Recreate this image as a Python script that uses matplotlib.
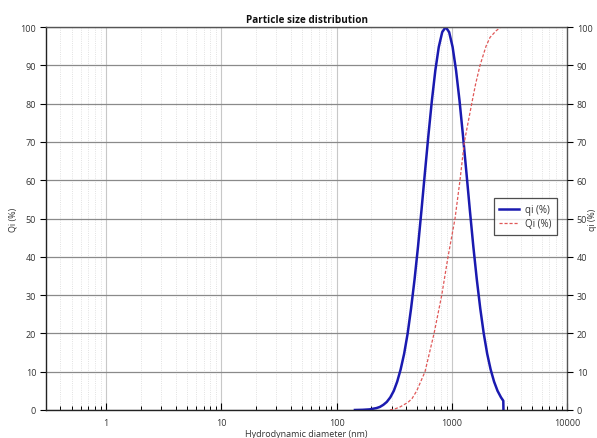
import matplotlib
matplotlib.use("Agg")
import matplotlib.pyplot as plt
from matplotlib.ticker import LogLocator, FixedLocator, NullFormatter, FixedFormatter

plt.rcParams['font.family'] = ['Open Sans', 'DejaVu Sans']

# qi (%) - frequency distribution
qi_d = [144, 168, 193, 221, 237, 254, 272, 292, 313, 335, 359, 385, 413, 442, 474,
        508, 544, 583, 625, 670, 718, 769, 824, 883, 946, 1014, 1086, 1164, 1247,
        1336, 1432, 1534, 1644, 1762, 1888, 2023, 2167, 2322, 2488, 2666, 2792, 2800]
qi_v = [0, 0.05, 0.16, 0.49, 0.8, 1.35, 2.1, 3.3, 5.0, 7.4, 10.6, 14.7, 20.0, 26.5, 34.1,
        42.7, 52.1, 62.0, 71.7, 80.8, 88.7, 94.8, 98.7, 100, 98.7, 94.8, 88.7, 80.8, 71.7,
        62.0, 52.1, 42.7, 34.1, 26.5, 20.0, 14.7, 10.6, 7.4, 5.0, 3.3, 2.4, 0]

# Qi (%) - cumulative distribution
Qi_d = [290, 321, 355, 416, 451, 495, 584, 700, 816, 925, 1064, 1175, 1282, 1485,
        1602, 1753, 1977, 2140, 2412, 2650]
Qi_v = [0, 0.3, 0.8, 2, 3, 5, 10, 20, 30, 40, 50, 60, 70, 80,
        85, 90, 95, 97.3, 99, 100]

y_ticks = [0, 10, 20, 30, 40, 50, 60, 70, 80, 90, 100]
x_major = [1, 10, 100, 1000, 10000]
x_major_labels = ["1", "10", "100", "1000", "10000"]

fig = plt.figure(figsize=(5.97, 4.39), dpi=100)
ax = fig.add_axes([0.077, 0.0638, 0.873, 0.8722])
ax.set_xscale('log')
ax.set_xlim(0.3, 10000)
ax.set_ylim(0, 100)

txt = '#333333'
ax.xaxis.set_major_locator(FixedLocator(x_major))
ax.xaxis.set_major_formatter(FixedFormatter(x_major_labels))
ax.xaxis.set_minor_locator(LogLocator(base=10, subs=[2, 3, 4, 5, 6, 7, 8, 9], numticks=20))
ax.xaxis.set_minor_formatter(NullFormatter())
ax.grid(which='major', axis='x', color='#c8c8c8', lw=0.8, ls='-')
ax.grid(which='minor', axis='x', color='#d8d8d8', lw=0.6, ls=':')
ax.set_yticks(y_ticks)
ax.grid(which='major', axis='y', color='#8a8a8a', lw=0.9, ls='-')
ax.set_axisbelow(True)

ax.tick_params(axis='x', which='major', direction='in', length=5, width=0.8,
               labelsize=6.5, labelcolor=txt, pad=6)
ax.tick_params(axis='x', which='minor', direction='in', length=3, width=0.7)
ax.tick_params(axis='y', direction='out', length=4, width=0.8, labelsize=6.5,
               labelcolor=txt, pad=3)

for s in ['left', 'bottom']:
    ax.spines[s].set_color('#222222')
    ax.spines[s].set_linewidth(1.0)
for s in ['top', 'right']:
    ax.spines[s].set_color('#555555')
    ax.spines[s].set_linewidth(1.0)

l1, = ax.plot(qi_d, qi_v, color='#1a1ab0', lw=1.8, label='qi (%)', solid_joinstyle='round')
l2, = ax.plot(Qi_d, Qi_v, color='#e05858', lw=0.9, ls=(0, (2.5, 1.5)), label='Qi (%)')

ax2 = ax.twinx()
ax2.set_ylim(0, 100)
ax2.set_yticks(y_ticks)
ax2.tick_params(axis='y', direction='out', length=4, width=0.8, labelsize=6.5,
                labelcolor=txt, pad=3)
for s in ax2.spines.values():
    s.set_visible(False)

ax.set_title('Particle size distribution', fontsize=7.2, fontweight='bold', pad=4, color='#111111')
ax.set_xlabel('Hydrodynamic diameter (nm)', fontsize=6.5, color=txt, labelpad=1)
ax.set_ylabel('Qi (%)', fontsize=6.5, color=txt, labelpad=2)
fig.text(592.5 / 597, 0.5, 'qi (%)', rotation=90, ha='center', va='center',
         fontsize=6.3, color=txt)

leg = ax.legend(handles=[l1, l2], loc='center right', bbox_to_anchor=(0.99, 0.505),
                fontsize=7, frameon=True, fancybox=False, handlelength=2.0,
                borderpad=0.6, labelspacing=0.35, handletextpad=0.6)
leg.get_frame().set_edgecolor('#222222')
leg.get_frame().set_linewidth(0.9)
for t in leg.get_texts():
    t.set_color(txt)

fig.savefig('out.png', dpi=100)
